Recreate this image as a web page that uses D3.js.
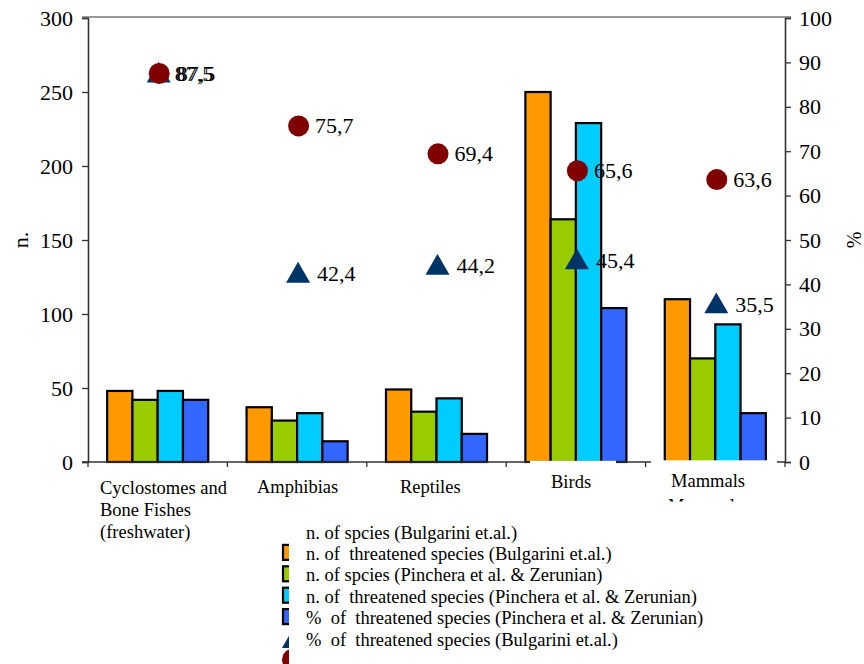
<!DOCTYPE html>
<html><head><meta charset="utf-8">
<script src="https://cdn.jsdelivr.net/npm/d3@7/dist/d3.min.js"></script>
<style>
html,body{margin:0;padding:0;background:#fff;}
svg text{font-family:'Liberation Serif','Times New Roman','DejaVu Serif','Noto Serif',serif !important;fill:#000;}
</style></head>
<body>
<svg id="chart" width="864" height="664"></svg>
<script>
const categories = ["Cyclostomes and|Bone Fishes|(freshwater)", "Amphibias", "Reptiles", "Birds", "Mammals"];
const speciesBulgarini = [48, 37, 49, 250, 110];
const threatenedBulgarini = [42, 28, 34, 164, 70];
const speciesPinchera = [48, 33, 43, 229, 93];
const threatenedPinchera = [42, 14, 19, 104, 33];
const pctPinchera = [87.5, 42.4, 44.2, 45.4, 35.5];
const pctBulgarini = [87.5, 75.7, 69.4, 65.6, 63.6];
const leftTicks = [0, 50, 100, 150, 200, 250, 300];
const rightTicks = [0, 10, 20, 30, 40, 50, 60, 70, 80, 90, 100];
const legendLabels = [
  "n. of spcies (Bulgarini et.al.)",
  "n. of  threatened species (Bulgarini et.al.)",
  "n. of spcies (Pinchera et al. & Zerunian)",
  "n. of  threatened species (Pinchera et al. & Zerunian)",
  "%  of  threatened species (Pinchera et al. & Zerunian)",
  "%  of  threatened species (Bulgarini et.al.)"
];
const barSeries = [speciesBulgarini, threatenedBulgarini, speciesPinchera, threatenedPinchera];
const barColors = ["#FF9900", "#99CC00", "#00CCFF", "#3366FF"];
const triColor = "#003366", circColor = "#800000";
const FONT = "'Liberation Serif','Times New Roman','DejaVu Serif',serif";

const svg = d3.select("#chart").attr("font-family", FONT);
const L = 88, R = 785, T = 18, B = 462;
const x = d3.scaleBand().domain(d3.range(categories.length)).range([L, R]).paddingInner(0.275).paddingOuter(0.1375);
const xs = d3.scaleBand().domain(d3.range(barSeries.length)).range([0, x.bandwidth()]);
const yL = d3.scaleLinear().domain([0, 300]).range([B, T]);
const yR = d3.scaleLinear().domain([0, 100]).range([B, T]);
const step = x.step();

// bars
barSeries.forEach((s, si) => {
  svg.append("g").selectAll("rect").data(s).join("rect")
    .attr("x", (d, i) => x(i) + xs(si))
    .attr("y", d => yL(d))
    .attr("width", xs.bandwidth())
    .attr("height", d => yL(0) - yL(d))
    .attr("fill", barColors[si])
    .attr("stroke", "#000").attr("stroke-width", 2.2);
});

// top border
svg.append("line").attr("x1", L - 6).attr("x2", R + 6).attr("y1", T - 1).attr("y2", T - 1)
  .attr("stroke", "#999").attr("stroke-width", 2);

// left axis
const axL = svg.append("g").attr("transform", `translate(${L},0)`)
  .call(d3.axisLeft(yL).tickValues(leftTicks).tickSize(6).tickPadding(9).tickFormat(d3.format("d")));
// right axis
const axR = svg.append("g").attr("transform", `translate(${R},0)`)
  .call(d3.axisRight(yR).tickValues(rightTicks).tickSize(6).tickPadding(8).tickFormat(d3.format("d")));
[axL, axR].forEach(a => {
  a.attr("font-family", FONT);
  a.select(".domain").attr("stroke", "#333").attr("stroke-width", 1.6);
  a.selectAll(".tick line").attr("stroke", "#333").attr("stroke-width", 1.3);
  a.selectAll(".tick text").attr("font-size", 22).attr("fill", "#000");
});

// x axis line and ticks
svg.append("line").attr("x1", L - 6).attr("x2", R).attr("y1", B).attr("y2", B).attr("stroke", "#333").attr("stroke-width", 1.6);
svg.append("g").selectAll("line").data(d3.range(categories.length + 1)).join("line")
  .attr("x1", i => L + i * step).attr("x2", i => L + i * step)
  .attr("y1", B).attr("y2", B + 5).attr("stroke", "#333").attr("stroke-width", 1.3);

// white label boxes overlapping axis (Birds, Mammals)
svg.append("rect").attr("x", 530).attr("y", 460.8).attr("width", 86).attr("height", 36).attr("fill", "#fff");
svg.append("rect").attr("x", 651).attr("y", 460.3).attr("width", 126).attr("height", 38).attr("fill", "#fff");

// category labels
const labelPos = [[100, 494], [257, 493], [400, 493], [551, 488], [671, 487]];
categories.forEach((c, i) => {
  const t = svg.append("text").attr("font-size", 18.5);
  c.split("|").forEach((line, j) => {
    t.append("tspan").attr("x", labelPos[i][0]).attr("y", labelPos[i][1] + j * 22).text(line);
  });
});
// clipped artifact under Mammals (top of a cut-off second line)
svg.append("clipPath").attr("id", "mamclip").append("rect").attr("x", 660).attr("y", 498.5).attr("width", 110).attr("height", 3);
svg.append("text").attr("clip-path", "url(#mamclip)").attr("x", 668).attr("y", 512).attr("font-size", 18.5).attr("fill", "#222").text("Mammals");

// triangles
const tri = d3.symbol().type(d3.symbolTriangle).size(250);
svg.append("g").selectAll("path").data(pctPinchera).join("path")
  .attr("d", tri)
  .attr("transform", (d, i) => `translate(${x(i) + x.bandwidth() / 2 + 1},${yR(d) + 2})`)
  .attr("fill", triColor);
svg.append("g").selectAll("text").data(pctPinchera).join("text")
  .attr("x", (d, i) => x(i) + x.bandwidth() / 2 + (i === 0 ? 17 : 20))
  .attr("y", d => yR(d) + 7.5)
  .attr("font-size", 22)
  .text(d => d3.format(".1f")(d).replace(".", ","));

// circles
svg.append("g").selectAll("circle").data(pctBulgarini).join("circle")
  .attr("cx", (d, i) => x(i) + x.bandwidth() / 2 + 1.5)
  .attr("cy", d => yR(d))
  .attr("r", 10.5)
  .attr("fill", circColor);
svg.append("g").selectAll("text").data(pctBulgarini).join("text")
  .attr("x", (d, i) => x(i) + x.bandwidth() / 2 + (i === 0 ? 19 : 18))
  .attr("y", d => yR(d) + 7.5)
  .attr("font-size", 22)
  .text(d => d3.format(".1f")(d).replace(".", ","));

// legend (symbols shifted one line down relative to text, as in the source)
const legY0 = 532, legDy = 21.4;
const lg = svg.append("g");
lg.selectAll("text").data(legendLabels).join("text")
  .attr("x", 306).attr("y", (d, i) => legY0 + i * legDy + 6.5)
  .attr("font-size", 18.5).style("white-space", "pre")
  .text(d => d);
svg.append("clipPath").attr("id", "legclip").append("rect").attr("x", 270).attr("y", 520).attr("width", 19).attr("height", 144);
const ls = svg.append("g").attr("clip-path", "url(#legclip)");
barColors.forEach((c, i) => {
  const cy = legY0 + (i + 1) * legDy - 1;
  ls.append("rect").attr("x", 283).attr("y", cy - 7.5).attr("width", 15).attr("height", 15)
    .attr("fill", c).attr("stroke", "#000").attr("stroke-width", 2.2);
});
ls.append("path").attr("d", tri).attr("transform", `translate(294,${legY0 + 5 * legDy + 2})`).attr("fill", triColor);
ls.append("circle").attr("cx", 292.5).attr("cy", legY0 + 6 * legDy - 1).attr("r", 10.5).attr("fill", circColor);

// axis titles
svg.append("text").attr("transform", "translate(28,240) rotate(-90)").attr("text-anchor", "middle").attr("font-size", 22).text("n.");
svg.append("text").attr("transform", "translate(861,240) rotate(-90)").attr("text-anchor", "middle").attr("font-size", 20).text("%");
</script>
</body></html>
